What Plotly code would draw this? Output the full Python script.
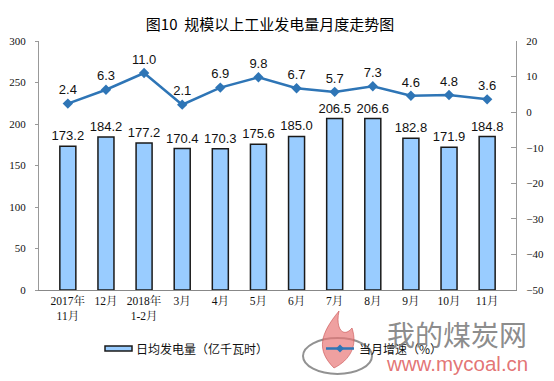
import plotly.graph_objects as go

categories = ["2017年<br>11月", "12月", "2018年<br>1-2月", "3月", "4月", "5月", "6月", "7月", "8月", "9月", "10月", "11月"]
daily_output = [173.2, 184.2, 177.2, 170.4, 170.3, 175.6, 185.0, 206.5, 206.6, 182.8, 171.9, 184.8]
growth = [2.4, 6.3, 11.0, 2.1, 6.9, 9.8, 6.7, 5.7, 7.3, 4.6, 4.8, 3.6]
left_ticks = [0, 50, 100, 150, 200, 250, 300]
right_ticks = [-50, -40, -30, -20, -10, 0, 10, 20]
bar_name = "日均发电量（亿千瓦时）"
line_name = "当月增速（%）"

W, H = 554, 381
ML, MR, MT, MB = 39, 38, 41, 91
PW, PH = W - ML - MR, H - MT - MB

def px(x):
    return (x - ML) / PW

def py(y):
    return (H - MB - y) / PH

def pt(x, y):
    return f"{px(x)},{py(y)}"

BAR_FILL = "#99CCFF"
LINE_C = "#2E75B6"

fig = go.Figure()
fig.add_trace(go.Bar(
    x=categories, y=daily_output, name=bar_name,
    marker=dict(color=BAR_FILL, line=dict(color="#1a1a1a", width=1.5)),
    text=[f"{v:.1f}" for v in daily_output], textposition="outside",
    textfont=dict(family="Liberation Sans, Arial", size=13, color="#111"),
    constraintext="none", cliponaxis=False, width=0.42,
))
fig.add_trace(go.Scatter(
    x=categories, y=growth, name=line_name, yaxis="y2",
    mode="lines+markers+text",
    line=dict(color=LINE_C, width=2.5),
    marker=dict(symbol="diamond", size=8, color=LINE_C),
    text=[f"{v:.1f}" for v in growth], textposition="top center",
    textfont=dict(family="Liberation Sans, Arial", size=13, color="#111"),
    cliponaxis=False,
))

cjk = "Noto Sans CJK SC"
serif = "Liberation Serif, Times New Roman, Noto Serif CJK SC, Noto Sans CJK SC"

shapes = [
    # watermark logo
    dict(type="circle", xref="paper", yref="paper", x0=px(303), x1=px(372), y0=py(374), y1=py(338),
         line=dict(color="rgba(110,110,110,0.75)", width=2), layer="above"),
    dict(type="path", xref="paper", yref="paper",
         path=f"M {pt(334,368)} C {pt(316,350)} {pt(320,334)} {pt(339,311)} "
              f"C {pt(335,330)} {pt(344,338)} {pt(352,328)} C {pt(358,346)} {pt(350,360)} {pt(334,368)} Z",
         fillcolor="rgba(232,120,120,0.7)", line=dict(color="rgba(200,80,80,0.6)", width=1), layer="above"),
    # legend swatches
    dict(type="rect", xref="paper", yref="paper", x0=px(105), x1=px(132), y0=py(351), y1=py(346),
         fillcolor=BAR_FILL, line=dict(color="#1a1a1a", width=1.5)),
    dict(type="line", xref="paper", yref="paper", x0=px(326), x1=px(354), y0=py(348.5), y1=py(348.5),
         line=dict(color=LINE_C, width=2.5)),
    dict(type="path", xref="paper", yref="paper",
         path=f"M {pt(340,344.5)} L {pt(344,348.5)} L {pt(340,352.5)} L {pt(336,348.5)} Z",
         fillcolor=LINE_C, line=dict(color=LINE_C, width=0)),
]
annotations = [
    dict(text=bar_name, xref="paper", yref="paper", x=px(134), y=py(348.5), xanchor="left", yanchor="middle",
         showarrow=False, font=dict(family=cjk, size=12, color="#111")),
    dict(text=line_name, xref="paper", yref="paper", x=px(357), y=py(348.5), xanchor="left", yanchor="middle",
         showarrow=False, font=dict(family=cjk, size=12, color="#111")),
    dict(text="我的煤炭网", xref="paper", yref="paper", x=px(457), y=py(334), xanchor="center", yanchor="middle",
         showarrow=False, font=dict(family=cjk, size=28, color="rgba(125,125,125,0.9)")),
    dict(text="www.mycoal.cn", xref="paper", yref="paper", x=px(457), y=py(363), xanchor="center", yanchor="middle",
         showarrow=False, font=dict(family="Liberation Sans, Arial", size=20.5, color="rgba(224,100,100,0.9)")),
]

fig.update_layout(
    width=W, height=H,
    margin=dict(l=ML, r=MR, t=MT, b=MB, autoexpand=False),
    paper_bgcolor="white", plot_bgcolor="white",
    showlegend=False,
    bargap=0.58,
    title=dict(text="图10  规模以上工业发电量月度走势图", x=270 / W, xanchor="center",
               y=1 - 25 / H, yanchor="middle", xref="container", yref="container",
               font=dict(family=cjk, size=15, color="#000")),
    xaxis=dict(showline=True, linecolor="#888", linewidth=1, ticks="", automargin=False,
               tickfont=dict(family=serif, size=11.5, color="#111"),
               showgrid=False),
    yaxis=dict(range=[0, 300], tickvals=left_ticks, showline=True, linecolor="#999",
               ticks="outside", ticklen=3, tickcolor="#999", showgrid=False, automargin=False,
               zeroline=False, tickfont=dict(family=serif, size=11, color="#111"),
               ticklabelstandoff=7),
    yaxis2=dict(range=[-50, 20], tickvals=right_ticks, overlaying="y", side="right",
                showline=True, linecolor="#999", ticks="inside", ticklen=5, automargin=False,
                tickcolor="#999", showgrid=False, zeroline=False,
                tickfont=dict(family=serif, size=11, color="#111"),
                ticklabelstandoff=7),
    shapes=shapes,
    annotations=annotations,
)
fig.write_html("out.html", config={"displayModeBar": False},
               post_script="document.body.style.margin='0';document.body.style.padding='0';")
